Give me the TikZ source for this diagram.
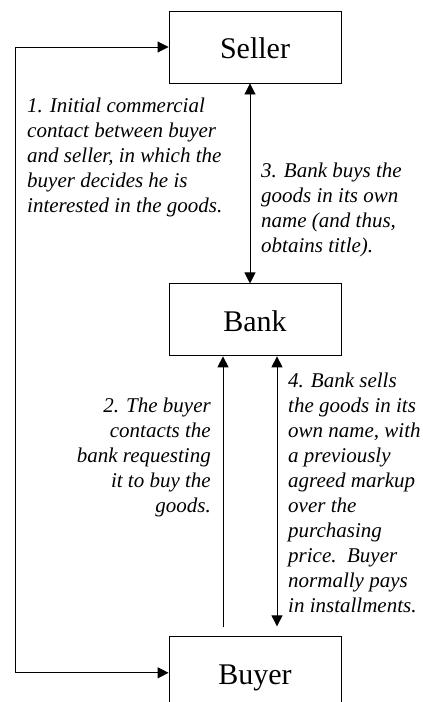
\documentclass[tikz,border=0pt]{standalone}
\usepackage{fontspec}
\setmainfont{Liberation Serif}
\usetikzlibrary{positioning,arrows.meta}

\tikzset{
	party/.style={draw,line width=0.9pt,minimum width=172pt,minimum height=72pt,inner sep=0pt,text height=23pt,text depth=0pt,font=\fontsize{30}{36}\selectfont},
	note/.style={inner sep=0pt,font=\fontsize{21}{25}\selectfont\itshape},
	link/.style={line width=0.9pt},
	>={Triangle[length=11pt,width=11pt]}
}

\begin{document}
\begin{tikzpicture}[x=1pt,y=1pt]
		\useasboundingbox (0,0) rectangle (423,-702);
		
		% Set up the boxes (the three parties)
		\node[party] (Seller) at (255,-47) {Seller};
		\node[party,below=200pt of Seller] (Bank) {Bank};
		\node[party,below=280pt of Bank] (Buyer) {Buyer};
		
		% Add the texts of the steps
		\node[note,anchor=north west,align=left] (Step1) at (27,-98) {1. Initial commercial\\contact between buyer\\and seller, in which the\\buyer decides he is\\interested in the goods.};
		\node[note,anchor=north west,align=left] (Step3) at (261,-163) {3. Bank buys the\\goods in its own\\name (and thus,\\obtains title).};
		\node[note,anchor=north east,align=right] (Step2) at (211,-398) {2. The buyer\\contacts the\\bank requesting\\it to buy the\\goods.};
		\node[note,anchor=north west,align=left] (Step4) at (288,-373) {4. Bank sells\\the goods in its\\own name, with\\a previously\\agreed markup\\over the\\purchasing\\price.\ \ Buyer\\normally pays\\in installments.};
		
		% Add the arrows
		\draw[link,<->] (Buyer.west) -- ++(-153,0) |- (Seller.west);
		\draw[link,<->] ([xshift=-5pt]Seller.south) -- ([xshift=-5pt]Bank.north);
		\draw[link,->,shorten <=9pt] ([xshift=-32pt]Buyer.north) -- ([xshift=-32pt]Bank.south);
		\draw[link,<->,shorten >=10pt] ([xshift=22pt]Bank.south) -- ([xshift=22pt]Buyer.north);
	\end{tikzpicture}
\end{document}
